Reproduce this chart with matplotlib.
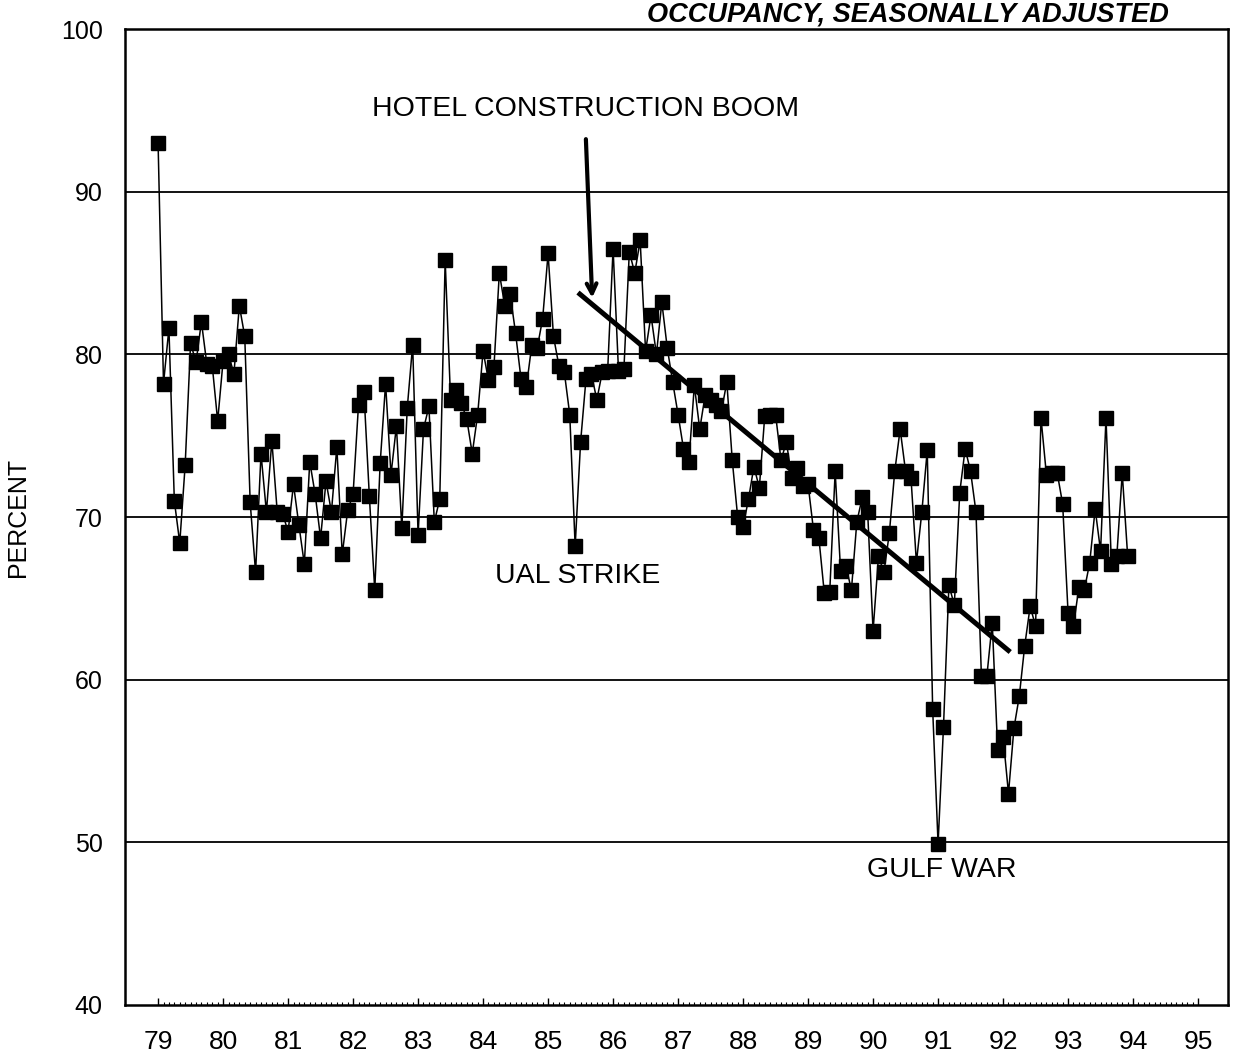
import numpy as np
import matplotlib
matplotlib.use("Agg")
import matplotlib.pyplot as plt
from matplotlib.ticker import FixedLocator

plt.rcParams['font.family'] = ['Liberation Sans', 'DejaVu Sans']

# Monthly hotel occupancy (percent), Jan 1979 - Dec 1993
v79 = [93.0, 78.2, 81.6, 71.0, 68.4, 73.2, 80.7, 79.5, 82.0, 79.4, 79.3, 75.9]
v80 = [79.6, 80.0, 78.8, 83.0, 81.1, 70.9, 66.6, 73.9, 70.3, 74.7, 70.3, 70.2]
v81 = [69.1, 72.0, 69.5, 67.1, 73.4, 71.4, 68.7, 72.2, 70.3, 74.3, 67.7, 70.4]
v82 = [71.4, 76.9, 77.7, 71.3, 65.5, 73.3, 78.2, 72.6, 75.6, 69.3, 76.7, 80.6]
v83 = [68.9, 75.4, 76.8, 69.7, 71.1, 85.8, 77.2, 77.8, 77.0, 76.0, 73.9, 76.3]
v84 = [80.2, 78.4, 79.2, 85.0, 83.0, 83.7, 81.3, 78.5, 78.0, 80.6, 80.4, 82.2]
v85 = [86.2, 81.1, 79.3, 78.9, 76.3, 68.2, 74.6, 78.5, 78.8, 77.2, 78.9, 79.0]
v86 = [86.5, 79.0, 79.1, 86.3, 85.0, 87.0, 80.2, 82.4, 80.0, 83.2, 80.4, 78.3]
v87 = [76.3, 74.2, 73.4, 78.1, 75.4, 77.5, 77.2, 76.9, 76.5, 78.3, 73.5, 70.0]
v88 = [69.4, 71.1, 73.1, 71.8, 76.2, 76.3, 76.3, 73.5, 74.6, 72.4, 73.0, 71.9]
v89 = [72.0, 69.2, 68.7, 65.3, 65.4, 72.8, 66.7, 67.0, 65.5, 69.7, 71.2, 70.3]
v90 = [63.0, 67.6, 66.6, 69.0, 72.8, 75.4, 72.8, 72.4, 67.2, 70.3, 74.1, 58.2]
v91 = [49.9, 57.1, 65.8, 64.6, 71.5, 74.2, 72.8, 70.3, 60.2, 60.2, 63.5, 55.7]
v92 = [56.5, 53.0, 57.0, 59.0, 62.1, 64.5, 63.3, 76.1, 72.6, 72.7, 72.7, 70.8]
v93 = [64.1, 63.3, 65.7, 65.5, 67.2, 70.5, 67.9, 76.1, 67.1, 67.6, 72.7, 67.6]

start_year = 79
years_labels = [str(y) for y in range(79, 96)]
y_ticks = [40, 50, 60, 70, 80, 90, 100]

# Trend line (hotel construction boom) endpoints
trend_x = [85.46, 92.11]
trend_y = [83.8, 61.7]

values = np.array(v79 + v80 + v81 + v82 + v83 + v84 + v85 + v86 +
                  v87 + v88 + v89 + v90 + v91 + v92 + v93)
x = start_year + np.arange(len(values)) / 12.0

fig = plt.figure(figsize=(12.37, 10.55), dpi=100)
ax = fig.add_axes([0.101, 0.0474, 0.8917, 0.9251])

ax.set_xlim(78.49, 95.46)
ax.set_ylim(40, 100)

for g in [50, 60, 70, 80, 90]:
    ax.axhline(g, color='black', lw=1.3, zorder=1)

ax.plot(x, values, color='black', lw=1.1, marker='s', markersize=10,
        markerfacecolor='black', markeredgecolor='black', zorder=3)

ax.plot(trend_x, trend_y, color='black', lw=3.6, solid_capstyle='butt', zorder=4)

ax.annotate('', xy=(85.68, 83.3), xytext=(85.58, 93.4),
            arrowprops=dict(arrowstyle='->,head_length=0.7,head_width=0.35',
                            color='black', lw=3.0), zorder=5)

fs_ann = 20.5
ax.text(85.57, 95.1, 'HOTEL CONSTRUCTION BOOM', ha='center', va='center',
        fontsize=fs_ann, color='black')
ax.text(85.45, 66.4, 'UAL STRIKE', ha='center', va='center',
        fontsize=fs_ann, color='black')
ax.text(91.05, 48.3, 'GULF WAR', ha='center', va='center',
        fontsize=fs_ann, color='black')

# axes styling
for s in ax.spines.values():
    s.set_linewidth(1.8)
    s.set_color('black')

ax.xaxis.set_major_locator(FixedLocator(range(79, 96)))
ax.set_xticklabels(years_labels)
ax.xaxis.set_minor_locator(FixedLocator(np.arange(79, 95.001, 1 / 12.0)))
ax.tick_params(axis='x', which='major', direction='in', length=5, width=1.0,
               labelsize=19, pad=18)
ax.tick_params(axis='x', which='minor', direction='in', length=2.5, width=0.8)

ax.set_yticks(y_ticks)
ax.set_yticklabels([str(v) for v in y_ticks])
ax.tick_params(axis='y', which='both', length=0, labelsize=18, pad=16)

ax.set_ylabel('PERCENT', fontsize=18, labelpad=22)

fig.text(0.945, 0.9985, 'OCCUPANCY, SEASONALLY ADJUSTED', ha='right',
         va='top', fontsize=19.5, fontweight='bold', fontstyle='italic')

fig.savefig('out.png', dpi=100, facecolor='white')
